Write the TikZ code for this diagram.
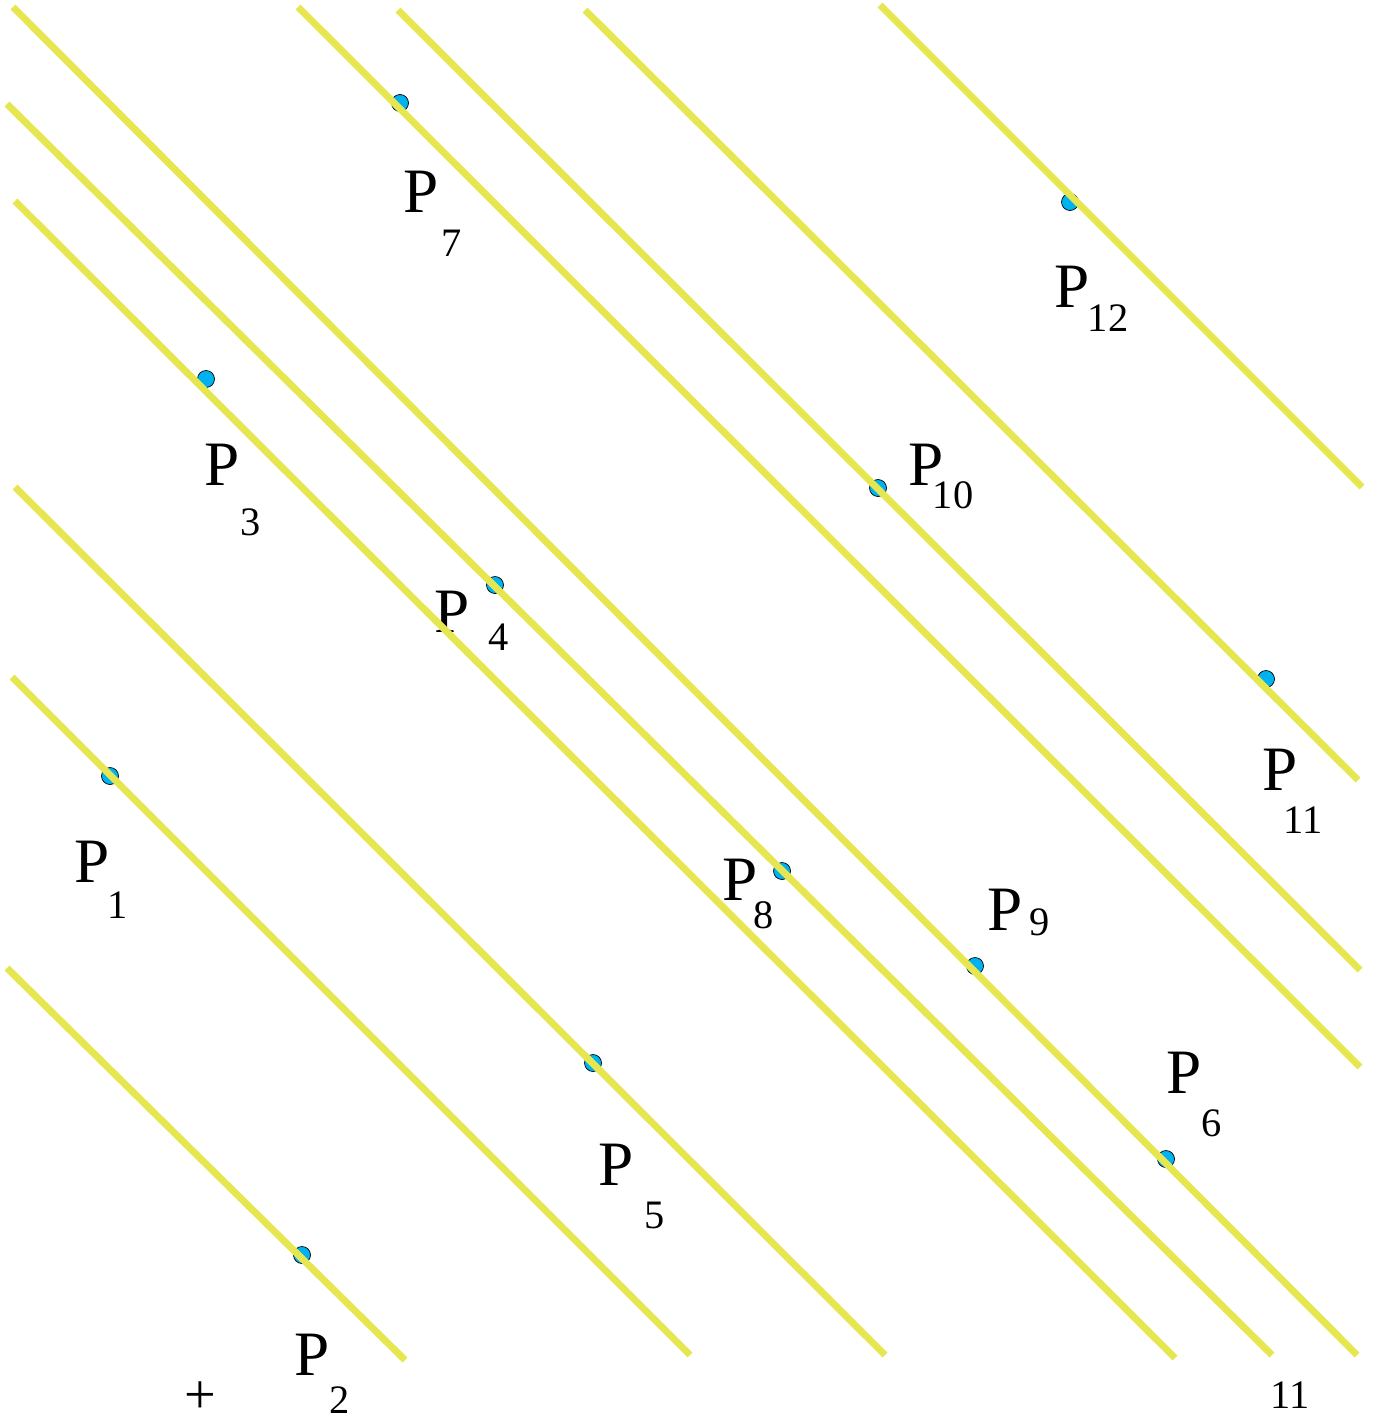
\documentclass[tikz,border=0pt]{standalone}
\usepackage{fontspec}
\setmainfont{Liberation Serif}
\definecolor{lineyellow}{RGB}{229,230,80}
\definecolor{dotblue}{RGB}{0,178,240}

\begin{document}
\begin{tikzpicture}[x=0.02cm, y=-0.02cm,
    yline/.style={lineyellow, line width=0.14cm},
    pt/.style={circle, draw=black, thin, fill=dotblue, inner sep=0, minimum size=0.34cm},
    plab/.style={inner sep=0, font=\fontsize{36}{36}\selectfont},
    nlab/.style={inner sep=0, font=\fontsize{23}{23}\selectfont}]
      \useasboundingbox (0,0) rectangle (1374,1423);
      \coordinate (1) at (110,776);
      \coordinate (2) at (302,1255);
      \coordinate (3) at (206,379);
      \coordinate (4) at (495,585);
      \coordinate (5) at (593,1063);
      \coordinate (6) at (1166,1159);
      \coordinate (7) at (400,103);
      \coordinate (8) at (782,871);
      \coordinate (9) at (975,966);
      \coordinate (10) at (878,488);
      \coordinate (11) at (1266,679);
      \coordinate (12) at (1070,202);
      \foreach \i in {1,...,12} {
        \path (\i) node[pt] (d\i) {};
      }
      \node[plab] (l1) at (92,862) {P};    \node[nlab] (n1) at (118,905) {1};
      \node[plab] (l2) at (312,1355) {P};  \node[nlab] (n2) at (340,1400) {2};
      \node[plab] (l3) at (222,465) {P};   \node[nlab] (n3) at (251,522) {3};
      \node[plab] (l4) at (452,612) {P};   \node[nlab] (n4) at (499,637) {4};
      \node[plab] (l5) at (616,1165) {P};  \node[nlab] (n5) at (655,1215) {5};
      \node[plab] (l6) at (1184,1073) {P}; \node[nlab] (n6) at (1212,1123) {6};
      \node[plab] (l7) at (421,192) {P};   \node[nlab] (n7) at (452,243) {7};
      \node[plab] (l8) at (740,880) {P};   \node[nlab] (n8) at (764,915) {8};
      \node[plab] (l9) at (1005,910) {P};  \node[nlab] (n9) at (1040,922) {9};
      \node[plab] (l10) at (926,465) {P};  \node[nlab] (n10) at (953,495) {10};
      \node[plab] (l11) at (1280,770) {P}; \node[nlab] (n11) at (1303,820) {11};
      \node[plab] (l12) at (1072,287) {P}; \node[nlab] (n12) at (1108,318) {12};
      \node[inner sep=0, font=\fontsize{32}{32}\selectfont] (plus) at (200,1398) {+};
      \node[nlab] (eleven) at (1290,1395) {11};
      % line ends
      \coordinate (s1) at (7,968);    \coordinate (e1) at (405,1360);
      \coordinate (s2) at (12,677);   \coordinate (e2) at (690,1355);
      \coordinate (s3) at (15,487);   \coordinate (e3) at (885,1355);
      \coordinate (s4) at (15,201);   \coordinate (e4) at (1175,1358);
      \coordinate (s5) at (7,104);    \coordinate (e5) at (1272,1355);
      \coordinate (s6) at (13,7);     \coordinate (e6) at (1357,1355);
      \coordinate (s7) at (298,7);    \coordinate (e7) at (1360,1067);
      \coordinate (s8) at (398,10);   \coordinate (e8) at (1360,970);
      \coordinate (s9) at (585,10);   \coordinate (e9) at (1358,780);
      \coordinate (s10) at (880,5);   \coordinate (e10) at (1362,487);
      \foreach \i in {1,...,10} {
        \draw[yline] (s\i) -- (e\i);
      }
    \end{tikzpicture}
\end{document}
